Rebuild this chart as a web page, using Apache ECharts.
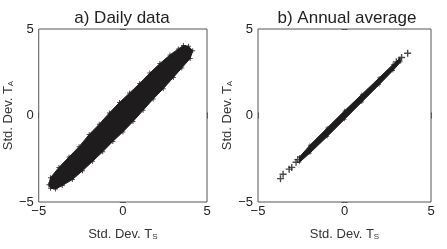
<!DOCTYPE html>
<html><head><meta charset="utf-8">
<script src="https://cdn.jsdelivr.net/npm/echarts@6/dist/echarts.min.js"></script>
<style>html,body{margin:0;padding:0;background:#fff}#c{width:447px;height:249px}</style>
</head><body><div id="c"></div>
<script>
// Panel titles and tick labels
const titles = ['a) Daily data', 'b) Annual average'];
const tickValues = [-5, 0, 5];

// a) Daily data: outline of the dense cloud of points (upper edge then lower edge)
const dailyUpper = [[-4.4,-4.0],[-4.3,-3.6],[-3.8,-3.0],[-3.2,-2.4],[-2.6,-1.8],[-2.0,-1.1],[-1.4,-0.5],[-0.8,0.15],[-0.2,0.75],[0.4,1.3],[1.0,1.85],[1.6,2.45],[2.2,3.0],[2.8,3.5],[3.3,3.85],[3.6,4.05],[3.9,4.0]];
const dailyLower = [[4.15,3.75],[4.0,3.3],[3.5,2.75],[3.0,2.2],[2.4,1.55],[1.8,0.95],[1.2,0.3],[0.6,-0.35],[0.0,-0.95],[-0.6,-1.5],[-1.2,-2.1],[-1.8,-2.65],[-2.4,-3.2],[-3.0,-3.7],[-3.6,-4.05],[-4.0,-4.25],[-4.3,-4.2]];

// b) Annual average: outline of the dense cloud plus isolated points
const annualUpper = [[-2.6,-2.4],[-2.0,-1.72],[-1.0,-0.72],[0.0,0.27],[1.0,1.22],[2.0,2.17],[2.8,2.95],[3.2,3.3]];
const annualLower = [[3.25,3.1],[2.8,2.6],[2.0,1.78],[1.0,0.78],[0.0,-0.22],[-1.0,-1.22],[-2.0,-2.17],[-2.6,-2.7]];
const annualOutliers = [[-3.7,-3.65],[-3.55,-3.4],[-3.2,-3.1],[-3.05,-3.0],[-2.7,-2.55],[-2.8,-2.7],[3.0,3.1],[3.3,3.35],[3.65,3.6]];

const INK = '#1e1c1c';
const PLUS = 'path://M4,0H6V4H10V6H6V10H4V6H0V4H4Z';
const FONT = 'Liberation Sans';

function polySeries(idx, verts) {
  return {
    type: 'custom', xAxisIndex: idx*2, yAxisIndex: idx*2, data: verts, silent: true,
    renderItem: function (params, api) {
      if (params.dataIndex !== 0) return null;
      const pts = verts.map(p => api.coord(p));
      return {type: 'polygon', shape: {points: pts}, style: {fill: INK, stroke: INK, lineWidth: 1}};
    }
  };
}
function plusSeries(idx, pts, size) {
  return {type: 'scatter', xAxisIndex: idx*2, yAxisIndex: idx*2, data: pts, symbol: PLUS, symbolSize: size,
    itemStyle: {color: INK}, silent: true};
}
const lbl = v => String(v).replace('-', '\u2212');
function axes(idx, isX) {
  const common = {
    gridIndex: idx, type: 'value', min: -5, max: 5, interval: 5,
    axisLine: {show: false}, splitLine: {show: false},
    axisTick: {show: true, inside: true, length: 3, lineStyle: {color: '#555'}}
  };
  const main = Object.assign({}, common, {
    position: isX ? 'bottom' : 'left',
    axisLabel: {show: true, formatter: lbl, color: '#222', fontFamily: FONT, fontSize: 13, margin: isX ? 3 : 5},
    nameLocation: 'middle', nameGap: isX ? 25 : 22,
    name: isX ? 'Std. Dev. T{s|S}' : 'Std. Dev. T{s|A}',
    nameTextStyle: {color: '#333', fontFamily: FONT, fontSize: 13, lineHeight: 14,
      rich: {s: {fontSize: 8, fontFamily: FONT, color: '#333', lineHeight: 14, verticalAlign: 'bottom'}}}
  });
  if (!isX) main.nameRotate = 90;
  const sec = Object.assign({}, common, {position: isX ? 'top' : 'right', axisLabel: {show: false}});
  return [main, sec];
}

const grids = [
  {left: 35, top: 29, width: 172, height: 173, show: true, borderColor: '#555', borderWidth: 1, backgroundColor: 'transparent'},
  {left: 258, top: 29, width: 173, height: 173, show: true, borderColor: '#555', borderWidth: 1, backgroundColor: 'transparent'}
];
const xAxes = [], yAxes = [];
[0,1].forEach(i => { xAxes.push(...axes(i, true)); yAxes.push(...axes(i, false)); });

const option = {
  animation: false,
  title: [
    {text: titles[0], left: 117, top: 5, textAlign: 'center', textStyle: {fontFamily: FONT, fontSize: 17, fontWeight: 'normal', color: '#222'}},
    {text: titles[1], left: 342, top: 5, textAlign: 'center', textStyle: {fontFamily: FONT, fontSize: 17, fontWeight: 'normal', color: '#222'}}
  ],
  grid: grids, xAxis: xAxes, yAxis: yAxes,
  series: [
    polySeries(0, dailyUpper.concat(dailyLower)),
    plusSeries(0, dailyUpper.concat(dailyLower), 5),
    polySeries(1, annualUpper.concat(annualLower)),
    plusSeries(1, annualUpper.concat(annualLower), 4),
    plusSeries(1, annualOutliers, 7)
  ]
};
const chart = echarts.init(document.getElementById('c'), null, {renderer: 'canvas'});
chart.setOption(option);
</script></body></html>
